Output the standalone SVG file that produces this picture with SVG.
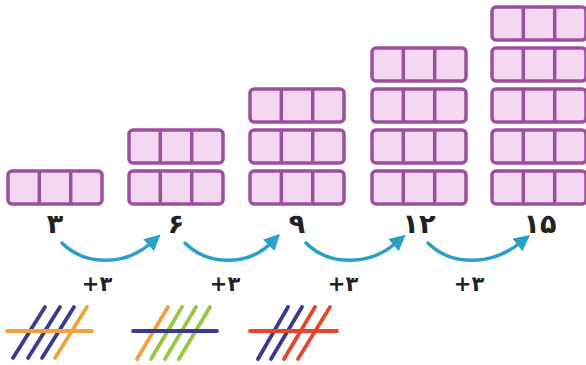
<svg xmlns="http://www.w3.org/2000/svg" width="586" height="365" viewBox="0 0 586 365">
<defs>
<style>
.row{fill:#f4d8f1;stroke:#9c4f9e;stroke-width:3.5}
.div{stroke:#9c4f9e;stroke-width:3.5}
.num{font-family:"DejaVu Sans",sans-serif;font-weight:bold;font-size:27px;fill:#222;text-anchor:middle}
.plus{font-family:"DejaVu Sans",sans-serif;font-weight:bold;font-size:21px;fill:#222;text-anchor:middle}
.arc{fill:none;stroke:#2b9fc7;stroke-width:3.5;stroke-linecap:round}
.t{stroke-width:3.8;stroke-linecap:round}
.nv{stroke:#3b3a8e}.or{stroke:#f0a23a}.gr{stroke:#97c647}.rd{stroke:#e8452e}
</style>
<g id="cells">
<rect class="row" x="0" y="0" width="94" height="33" rx="4"/>
<line class="div" x1="31.3" y1="0" x2="31.3" y2="33"/>
<line class="div" x1="62.7" y1="0" x2="62.7" y2="33"/>
</g>
<marker id="ah" viewBox="0 0 10 10" refX="2" refY="5" markerWidth="17" markerHeight="16" markerUnits="userSpaceOnUse" orient="auto">
<path d="M0,0 L10,5 L0,10 z" fill="#2b9fc7"/>
</marker>
</defs>
<rect width="586" height="365" fill="#fff"/>
<g id="n3">
<use href="#cells" x="8" y="171"/>
<text class="num" x="55" y="233">۳</text>
</g>
<g id="n6">
<use href="#cells" x="129" y="130"/>
<use href="#cells" x="129" y="171"/>
<text class="num" x="176" y="233">۶</text>
</g>
<g id="n9">
<use href="#cells" x="250" y="89"/>
<use href="#cells" x="250" y="130"/>
<use href="#cells" x="250" y="171"/>
<text class="num" x="297" y="233">۹</text>
</g>
<g id="n12">
<use href="#cells" x="372" y="48"/>
<use href="#cells" x="372" y="89"/>
<use href="#cells" x="372" y="130"/>
<use href="#cells" x="372" y="171"/>
<text class="num" x="419" y="233">۱۲</text>
</g>
<g id="n15">
<use href="#cells" x="492" y="7"/>
<use href="#cells" x="492" y="48"/>
<use href="#cells" x="492" y="89"/>
<use href="#cells" x="492" y="130"/>
<use href="#cells" x="492" y="171"/>
<text class="num" x="540" y="233">۱۵</text>
</g>
<g id="connectors">
<path class="arc" marker-end="url(#ah)" d="M62,243 C85,266 125,266 151,243"/>
<path class="arc" marker-end="url(#ah)" d="M185,243 C208,266 248,266 271,243"/>
<path class="arc" marker-end="url(#ah)" d="M306,243 C329,266 369,266 396,243"/>
<path class="arc" marker-end="url(#ah)" d="M428,243 C451,266 491,266 520,243"/>
<text class="plus" x="97" y="291">+۳</text>
<text class="plus" x="225" y="291">+۳</text>
<text class="plus" x="343" y="291">+۳</text>
<text class="plus" x="469" y="291">+۳</text>
</g>
<g id="tally1">
<line class="t nv" x1="13" y1="358" x2="45" y2="307"/>
<line class="t nv" x1="28" y1="358" x2="60" y2="307"/>
<line class="t nv" x1="42" y1="358" x2="74" y2="307"/>
<line class="t or" x1="55" y1="358" x2="87" y2="307"/>
<line class="t or" x1="7" y1="331" x2="92" y2="331"/>
</g>
<g id="tally2">
<line class="t or" x1="137" y1="359" x2="168" y2="307"/>
<line class="t gr" x1="151" y1="359" x2="182" y2="307"/>
<line class="t gr" x1="165" y1="359" x2="196" y2="307"/>
<line class="t gr" x1="179" y1="359" x2="210" y2="307"/>
<line class="t nv" x1="133" y1="331" x2="217" y2="331"/>
</g>
<g id="tally3">
<line class="t nv" x1="258" y1="359" x2="288" y2="307"/>
<line class="t nv" x1="271" y1="359" x2="302" y2="307"/>
<line class="t rd" x1="284" y1="359" x2="315" y2="307"/>
<line class="t rd" x1="298" y1="359" x2="330" y2="307"/>
<line class="t rd" x1="250" y1="331" x2="337" y2="331"/>
</g>
</svg>
